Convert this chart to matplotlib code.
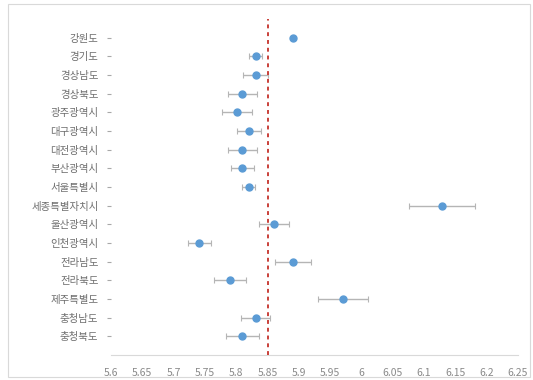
import matplotlib
matplotlib.use("Agg")
import matplotlib.pyplot as plt
from matplotlib.patches import Rectangle

plt.rcParams['font.family'] = ['Noto Sans CJK KR', 'DejaVu Sans']

# 지역별 평균값과 오차 범위
regions = ["강원도", "경기도", "경상남도", "경상북도", "광주광역시", "대구광역시",
           "대전광역시", "부산광역시", "서울특별시", "세종특별자치시", "울산광역시",
           "인천광역시", "전라남도", "전라북도", "제주특별도", "충청남도", "충청북도"]
means = [5.891, 5.831, 5.831, 5.810, 5.801, 5.820, 5.810, 5.810, 5.820, 6.129,
         5.861, 5.741, 5.891, 5.790, 5.970, 5.831, 5.810]
errors = [0.0, 0.010, 0.020, 0.023, 0.024, 0.019, 0.023, 0.018, 0.010, 0.053,
          0.024, 0.018, 0.029, 0.025, 0.040, 0.023, 0.027]
overall_mean = 5.85
xticks = [5.6, 5.65, 5.7, 5.75, 5.8, 5.85, 5.9, 5.95, 6.0, 6.05, 6.1, 6.15, 6.2, 6.25]
xtick_labels = ["5.6", "5.65", "5.7", "5.75", "5.8", "5.85", "5.9", "5.95", "6",
                "6.05", "6.1", "6.15", "6.2", "6.25"]

fig = plt.figure(figsize=(5.33, 3.80), dpi=100)
ax = fig.add_axes([111 / 533, 1 - 355 / 380, (518 - 111) / 533, (355 - 19) / 380])

ypos = list(range(len(regions)))
ax.errorbar(means, ypos, xerr=errors, fmt="none", ecolor="#b5b5b5",
            elinewidth=1, capsize=2, capthick=0.8, zorder=2)
ax.plot(means, ypos, "o", color="#5b9bd5", markersize=5, zorder=3)
ax.axvline(overall_mean, color="#c9403a", linestyle=(0, (2, 2)), linewidth=1.4, zorder=4)

ax.set_xlim(5.6, 6.25)
ax.set_ylim(17, -1)
ax.set_yticks(ypos)
ax.set_yticklabels(regions)
ax.set_xticks(xticks)
ax.set_xticklabels(xtick_labels)

for s in ["top", "right", "left"]:
    ax.spines[s].set_visible(False)
ax.spines["bottom"].set_color("#d9d9d9")
ax.tick_params(axis="x", length=0, pad=9, labelsize=7.5, colors="#8a8a8a")
ax.tick_params(axis="y", length=3, width=0.8, pad=6, labelsize=7.5,
               color="#a8a8a8", labelcolor="#6e6e6e")

# 바깥 테두리
fig.patches.append(Rectangle((8 / 533, 3 / 380), 522 / 533, 373 / 380,
                             transform=fig.transFigure, fill=False,
                             edgecolor="#d9d9d9", linewidth=0.8))

fig.savefig("out.png", dpi=100)
